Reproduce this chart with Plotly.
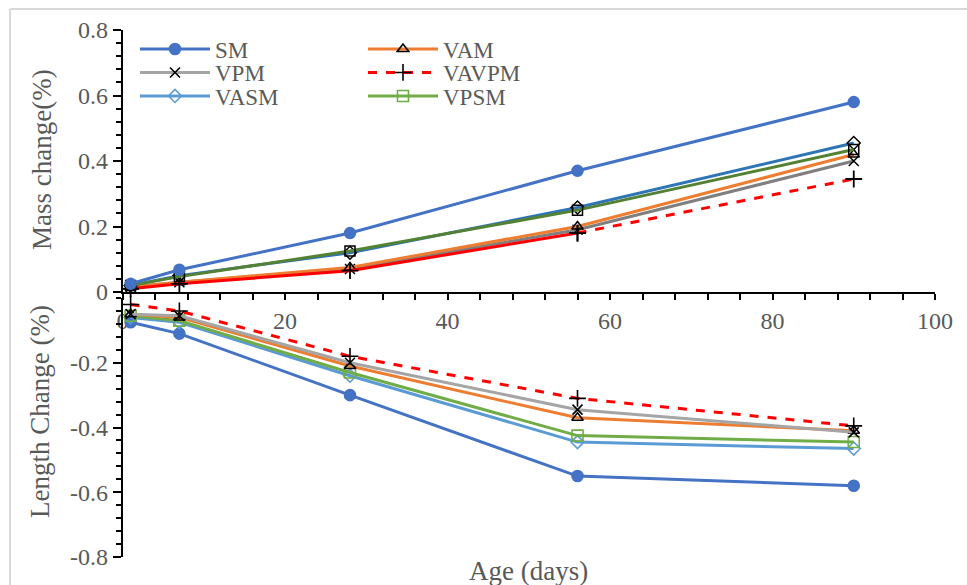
import plotly.graph_objects as go

# ---------------- data ----------------
days = [1, 7, 28, 56, 90]
series = ["SM", "VAM", "VPM", "VAVPM", "VASM", "VPSM"]

mass_SM    = [0.025, 0.068, 0.180, 0.370, 0.580]
mass_VAM   = [0.015, 0.030, 0.075, 0.200, 0.420]
mass_VPM   = [0.015, 0.030, 0.070, 0.190, 0.400]
mass_VAVPM = [0.010, 0.025, 0.065, 0.180, 0.345]
mass_VASM  = [0.020, 0.050, 0.120, 0.258, 0.455]
mass_VPSM  = [0.020, 0.047, 0.125, 0.250, 0.435]

len_SM    = [-0.075, -0.110, -0.300, -0.550, -0.580]
len_VAM   = [-0.050, -0.060, -0.210, -0.370, -0.410]
len_VPM   = [-0.050, -0.055, -0.200, -0.345, -0.415]
len_VAVPM = [-0.020, -0.040, -0.180, -0.310, -0.395]
len_VASM  = [-0.060, -0.075, -0.240, -0.445, -0.465]
len_VPSM  = [-0.055, -0.070, -0.230, -0.425, -0.445]

mass_tick_vals = [0, 0.2, 0.4, 0.6, 0.8]
mass_tick_text = ["0", "0.2", "0.4", "0.6", "0.8"]
len_tick_vals = [-0.8, -0.6, -0.4, -0.2]
len_tick_text = ["-0.8", "-0.6", "-0.4", "-0.2"]
x_tick_vals = [0, 20, 40, 60, 80, 100]

# ---------------- layout helpers ----------------
W, H = 967, 585
def px(x): return x / W
def py(y): return 1 - y / H

FONT = "Liberation Serif"
GREY = "#595959"

fig = go.Figure()

# ---- upper (mass change) traces ----
up_style = {
    "SM":    dict(color="#4472C4", sym="circle", mcol="#4472C4"),
    "VAM":   dict(color="#ED7D31", sym="triangle-up-open", mcol="black"),
    "VPM":   dict(color="#7F7F7F", sym="x-thin-open", mcol="black"),
    "VASM":  dict(color="#2E75B6", sym="diamond-open", mcol="black"),
    "VPSM":  dict(color="#548235", sym="square-open", mcol="black"),
}
mass_data = {"SM": mass_SM, "VAM": mass_VAM, "VPM": mass_VPM,
             "VASM": mass_VASM, "VPSM": mass_VPSM}

for name in ["VPM", "VAM"]:
    s = up_style[name]
    fig.add_trace(go.Scatter(x=days, y=mass_data[name], mode="lines+markers",
                             line=dict(color=s["color"], width=3),
                             marker=dict(symbol=s["sym"], size=10, color=s["mcol"],
                                         line=dict(color=s["mcol"], width=1.5)),
                             showlegend=False, cliponaxis=False, xaxis="x", yaxis="y"))
# VAVPM: solid up to day 56, dashed afterwards
fig.add_trace(go.Scatter(x=days[:4], y=mass_VAVPM[:4], mode="lines+markers",
                         line=dict(color="#FF0000", width=3),
                         marker=dict(symbol="cross-thin-open", size=12, color="black",
                                     line=dict(color="black", width=1.8)),
                         showlegend=False, cliponaxis=False, xaxis="x", yaxis="y"))
fig.add_trace(go.Scatter(x=days[3:], y=mass_VAVPM[3:], mode="lines+markers",
                         line=dict(color="#FF0000", width=3, dash="dash"),
                         marker=dict(symbol="cross-thin-open", size=12, color="black",
                                     line=dict(color="black", width=1.8)),
                         showlegend=False, cliponaxis=False, xaxis="x", yaxis="y"))
for name in ["VASM", "VPSM", "SM"]:
    s = up_style[name]
    fig.add_trace(go.Scatter(x=days, y=mass_data[name], mode="lines+markers",
                             line=dict(color=s["color"], width=3),
                             marker=dict(symbol=s["sym"], size=11 if name == "SM" else 10,
                                         color=s["mcol"],
                                         line=dict(color=s["mcol"], width=1.5)),
                             showlegend=False, cliponaxis=False, xaxis="x", yaxis="y"))

# ---- lower (length change) traces, these carry the legend ----
low_style = {
    "SM":    dict(color="#4472C4", sym="circle", mcol="#4472C4", dash="solid", size=11),
    "VAM":   dict(color="#ED7D31", sym="triangle-up-open", mcol="black", dash="solid", size=10),
    "VPM":   dict(color="#A5A5A5", sym="x-thin-open", mcol="black", dash="solid", size=10),
    "VAVPM": dict(color="#FF0000", sym="cross-thin-open", mcol="black", dash="dash", size=12),
    "VASM":  dict(color="#5B9BD5", sym="diamond-open", mcol="#5B9BD5", dash="solid", size=10),
    "VPSM":  dict(color="#70AD47", sym="square-open", mcol="#70AD47", dash="solid", size=11),
}
len_data = {"SM": len_SM, "VAM": len_VAM, "VPM": len_VPM, "VAVPM": len_VAVPM,
            "VASM": len_VASM, "VPSM": len_VPSM}
legend_ids = {"SM": "legend", "VPM": "legend2", "VASM": "legend3",
              "VAM": "legend4", "VAVPM": "legend5", "VPSM": "legend6"}

for name in ["SM", "VASM", "VPSM", "VAM", "VPM", "VAVPM"]:
    s = low_style[name]
    fig.add_trace(go.Scatter(x=days, y=len_data[name], mode="lines+markers", name=name,
                             line=dict(color=s["color"], width=3, dash=s["dash"]),
                             marker=dict(symbol=s["sym"], size=s["size"], color=s["mcol"],
                                         line=dict(color=s["mcol"], width=1.6)),
                             legend=legend_ids[name], cliponaxis=False,
                             xaxis="x", yaxis="y2"))

axis_common = dict(showline=True, linecolor="black", linewidth=1.5, showgrid=False,
                   zeroline=False, ticks="outside", tickcolor="black", tickwidth=1.5,
                   automargin=False,
                   tickfont=dict(family=FONT, size=24, color=GREY))

fig.update_layout(
    template="none",
    width=W, height=H, margin=dict(l=0, r=0, t=0, b=0, pad=0, autoexpand=False),
    paper_bgcolor="white", plot_bgcolor="rgba(0,0,0,0)",
    xaxis=dict(domain=[px(122.5), px(935)], range=[0, 100], anchor="y",
               tickvals=x_tick_vals, ticklen=6,
               minor=dict(dtick=4, ticks="outside", ticklen=6, tickcolor="black", tickwidth=1.5),
               ticklabelstandoff=0, **axis_common),
    yaxis=dict(domain=[py(292), py(30)], range=[0, 0.8], anchor="x",
               tickvals=mass_tick_vals, ticktext=mass_tick_text, ticklen=8,
               minor=dict(dtick=0.04, ticks="outside", ticklen=5, tickcolor="black", tickwidth=1.5),
               **axis_common),
    yaxis2=dict(domain=[py(557), py(298)], range=[-0.8, 0], anchor="x",
                tickvals=len_tick_vals, ticktext=len_tick_text, ticklen=8,
                minor=dict(dtick=0.04, ticks="outside", ticklen=5, tickcolor="black", tickwidth=1.5),
                **axis_common),
)

leg_font = dict(family=FONT, size=23, color=GREY)
leg_pos = {"legend": (135, 49), "legend2": (135, 72.5), "legend3": (135, 96),
           "legend4": (363, 49), "legend5": (363, 72.5), "legend6": (363, 96)}
for lid, (lx, ly) in leg_pos.items():
    fig.update_layout({lid: dict(x=px(lx), y=py(ly), xanchor="left", yanchor="middle",
                                 bgcolor="rgba(0,0,0,0)", font=leg_font, itemwidth=70,
                                 borderwidth=0)})

title_font = dict(family=FONT, size=27, color=GREY)
fig.add_annotation(text="Mass change(%)", x=px(42), y=py(160), xref="paper", yref="paper",
                   xanchor="center", yanchor="middle",
                   textangle=-90, showarrow=False, font=title_font)
fig.add_annotation(text="Length Change (%)", x=px(40), y=py(412), xref="paper", yref="paper",
                   xanchor="center", yanchor="middle",
                   textangle=-90, showarrow=False, font=title_font)
fig.add_annotation(text="Age (days)", x=px(528), y=py(571), xref="paper", yref="paper",
                   xanchor="center", yanchor="middle",
                   showarrow=False, font=title_font)

# chart frame (top and left edges visible)
fig.add_shape(type="line", xref="paper", yref="paper", x0=px(10), x1=1.0, y0=py(9), y1=py(9),
              line=dict(color="#D9D9D9", width=2))
fig.add_shape(type="line", xref="paper", yref="paper", x0=px(10), x1=px(10), y0=py(9), y1=0,
              line=dict(color="#D9D9D9", width=2))

fig.write_html("out.html")
